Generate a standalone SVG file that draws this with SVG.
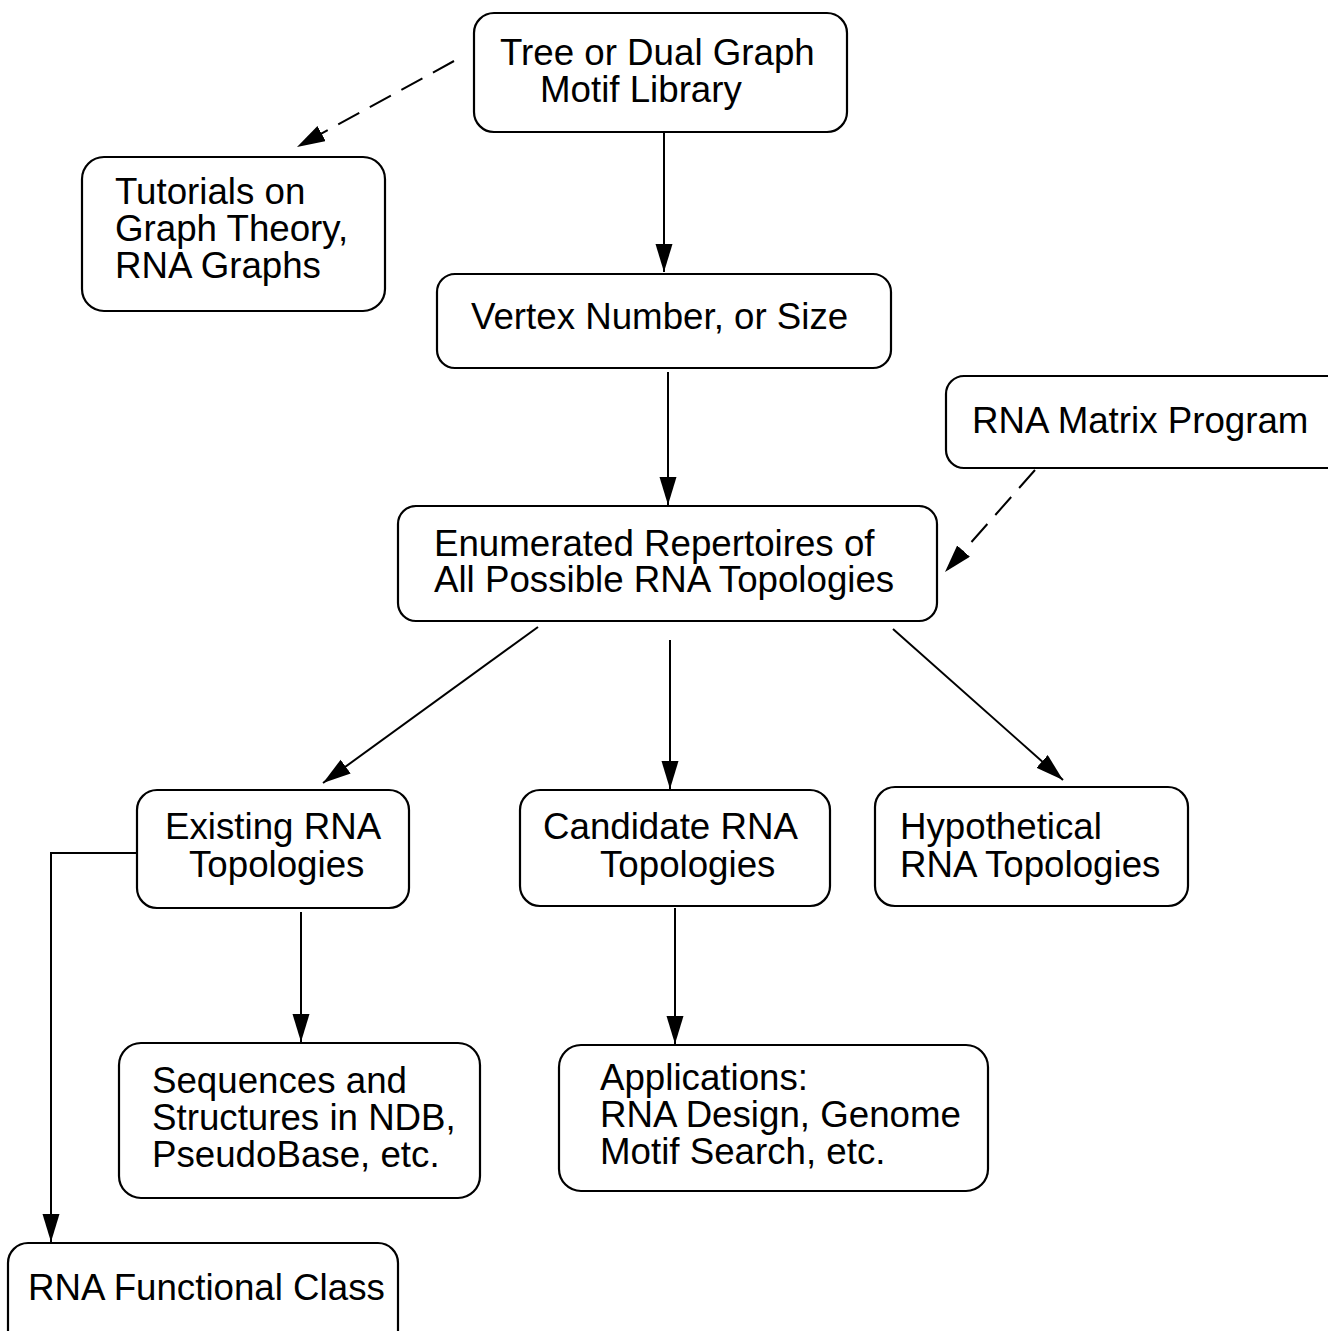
<svg xmlns="http://www.w3.org/2000/svg" width="1328" height="1331" viewBox="0 0 1328 1331">
<style>
.box{fill:#fff;stroke:#000;stroke-width:2.2}
.t{font-family:"Liberation Sans",Arial,Helvetica,sans-serif;font-size:36.7px;fill:#000}
.c{fill:none;stroke:#000;stroke-width:2}
.d{stroke-dasharray:24 12}
</style>
<defs>
<marker id="ah" markerUnits="userSpaceOnUse" markerWidth="30" markerHeight="18" refX="28" refY="8.5" orient="auto">
<path d="M0,0 L28,8.5 L0,17 Z" fill="#000"/>
</marker>
</defs>
<rect width="1328" height="1331" fill="#fff"/>
<g id="connectors">
<line class="c d" x1="454" y1="61" x2="297" y2="147" marker-end="url(#ah)"/>
<line class="c" x1="664" y1="132" x2="664" y2="272" marker-end="url(#ah)"/>
<line class="c" x1="668" y1="372" x2="668" y2="505" marker-end="url(#ah)"/>
<line class="c d" x1="1035" y1="470" x2="945" y2="572" marker-end="url(#ah)"/>
<line class="c" x1="538" y1="627" x2="323" y2="783" marker-end="url(#ah)"/>
<line class="c" x1="670" y1="640" x2="670" y2="789" marker-end="url(#ah)"/>
<line class="c" x1="893" y1="629" x2="1063" y2="780" marker-end="url(#ah)"/>
<line class="c" x1="301" y1="912" x2="301" y2="1042" marker-end="url(#ah)"/>
<line class="c" x1="675" y1="908" x2="675" y2="1044" marker-end="url(#ah)"/>
<polyline class="c" points="137,853 51,853 51,1242" marker-end="url(#ah)"/>
</g>
<g id="tree">
<rect class="box" x="474" y="13" width="373" height="119" rx="20"/>
<text class="t" x="500" y="65">Tree or Dual Graph</text>
<text class="t" x="540" y="102">Motif Library</text>
</g>
<g id="tutorials">
<rect class="box" x="82" y="157" width="303" height="154" rx="22"/>
<text class="t" x="115" y="204">Tutorials on</text>
<text class="t" x="115" y="241">Graph Theory,</text>
<text class="t" x="115" y="278">RNA Graphs</text>
</g>
<g id="vertex">
<rect class="box" x="437" y="274" width="454" height="94" rx="18"/>
<text class="t" x="471" y="329">Vertex Number, or Size</text>
</g>
<g id="matrix">
<rect class="box" x="946" y="376" width="400" height="92" rx="18"/>
<text class="t" x="972" y="433">RNA Matrix Program</text>
</g>
<g id="enumerated">
<rect class="box" x="398" y="506" width="539" height="115" rx="18"/>
<text class="t" x="434" y="556">Enumerated Repertoires of</text>
<text class="t" x="434" y="592">All Possible RNA Topologies</text>
</g>
<g id="existing">
<rect class="box" x="137" y="790" width="272" height="118" rx="20"/>
<text class="t" x="165" y="839">Existing RNA</text>
<text class="t" x="189" y="877">Topologies</text>
</g>
<g id="candidate">
<rect class="box" x="520" y="790" width="310" height="116" rx="20"/>
<text class="t" x="543" y="839">Candidate RNA</text>
<text class="t" x="600" y="877">Topologies</text>
</g>
<g id="hypothetical">
<rect class="box" x="875" y="787" width="313" height="119" rx="20"/>
<text class="t" x="900" y="839">Hypothetical</text>
<text class="t" x="900" y="877">RNA Topologies</text>
</g>
<g id="sequences">
<rect class="box" x="119" y="1043" width="361" height="155" rx="22"/>
<text class="t" x="152" y="1093">Sequences and</text>
<text class="t" x="152" y="1130">Structures in NDB,</text>
<text class="t" x="152" y="1167">PseudoBase, etc.</text>
</g>
<g id="applications">
<rect class="box" x="559" y="1045" width="429" height="146" rx="22"/>
<text class="t" x="600" y="1090">Applications:</text>
<text class="t" x="600" y="1127">RNA Design, Genome</text>
<text class="t" x="600" y="1164">Motif Search, etc.</text>
</g>
<g id="functional">
<rect class="box" x="8" y="1243" width="390" height="110" rx="20"/>
<text class="t" x="28" y="1300">RNA Functional Class</text>
</g>
</svg>
